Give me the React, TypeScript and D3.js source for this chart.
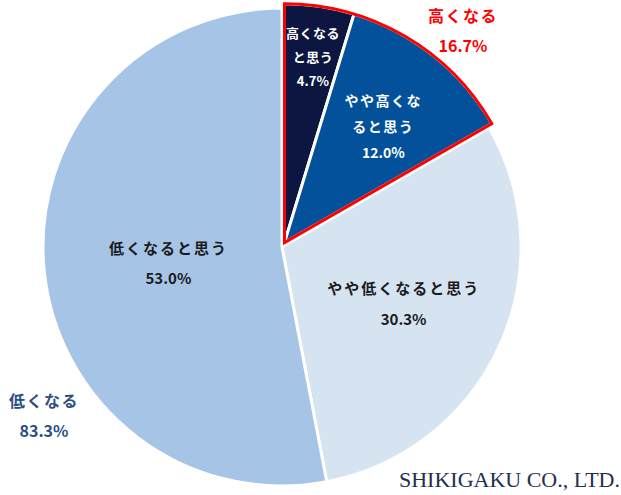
import React, { useEffect, useRef } from 'react';
import * as d3 from 'd3';

// slices, clockwise from 12 o'clock
const sliceNames = ['高くなると思う', 'やや高くなると思う', 'やや低くなると思う', '低くなると思う'];
const sliceValues = [4.7, 12.0, 30.3, 53.0];
const sliceLines = [
  ['高くなる', 'と思う'],
  ['やや高くな', 'ると思う'],
  ['やや低くなると思う'],
  ['低くなると思う'],
];
const sliceColors = ['#0c1640', '#02519a', '#d6e3f1', '#a6c5e6'];
const sliceTextColors = ['#ffffff', '#ffffff', '#1a1a1a', '#1a1a1a'];

const groupNames = ['高くなる', '低くなる'];
const groupValues = [16.7, 83.3];

const App = () => {
  const svgRef = useRef<SVGSVGElement>(null);

  useEffect(() => {
    const svg = d3.select(svgRef.current);
    svg.selectAll('*').remove();

    const width = 621;
    const height = 495;
    const cx = 282;
    const cy = 247;
    const radius = 239;
    const explode = 5;
    const font = "'Noto Sans CJK JP', 'Noto Sans', sans-serif";

    const data = sliceNames.map((name, i) => ({ name, value: sliceValues[i], i }));
    const pie = d3.pie<any>().sort(null).value(d => d.value);
    const arcs = pie(data);
    const arc = d3.arc<any>().innerRadius(0).outerRadius(radius);

    // high group = first two slices, pulled out a bit
    const highEnd = arcs[1].endAngle;
    const mid = highEnd / 2;
    const ox = Math.sin(mid) * explode;
    const oy = -Math.cos(mid) * explode;

    const g = svg.append('g').attr('transform', `translate(${cx},${cy})`);

    const lowG = g.append('g');
    const highG = g.append('g').attr('transform', `translate(${ox},${oy})`);

    arcs.forEach((a, i) => {
      const target = i < 2 ? highG : lowG;
      target.append('path')
        .attr('d', arc(a))
        .attr('fill', sliceColors[i])
        .attr('stroke', '#fff')
        .attr('stroke-width', 3)
        .attr('stroke-linejoin', 'round');
    });

    // red outline around the high group
    highG.append('path')
      .attr('d', arc({ startAngle: 0, endAngle: highEnd }))
      .attr('fill', 'none')
      .attr('stroke', '#ff0000')
      .attr('stroke-width', 3)
      .attr('stroke-linejoin', 'miter');

    // slice labels (position along the slice bisector, with small nudges)
    const labelR = [0.787, 0.64, 0.56, 0.48];
    const angleNudge = [0.004, 0.03, 0, -0.045];
    const fontSizes = [13, 14, 15, 15];
    const spacing = [0.5, 1.5, 2, 2];
    const lineH = [24, 26, 31, 30];
    arcs.forEach((a, i) => {
      const ang = (a.startAngle + a.endAngle) / 2 + angleNudge[i];
      const r = radius * labelR[i];
      let x = Math.sin(ang) * r;
      let y = -Math.cos(ang) * r;
      if (i < 2) { x += ox; y += oy; }
      const lines = [...sliceLines[i], `${sliceValues[i].toFixed(1)}%`];
      const top = y - ((lines.length - 1) * lineH[i]) / 2;
      lines.forEach((t, k) => {
        const isNum = k === lines.length - 1;
        g.append('text')
          .attr('x', x)
          .attr('y', top + k * lineH[i])
          .attr('text-anchor', 'middle')
          .attr('dominant-baseline', 'central')
          .attr('font-family', font)
          .attr('font-weight', 700)
          .attr('font-size', fontSizes[i])
          .attr('letter-spacing', isNum ? 0 : spacing[i])
          .attr('fill', sliceTextColors[i])
          .text(t);
      });
    });

    // group labels outside the pie
    const groupPos = [[463, 15], [44, 400]];
    const groupColors = ['#ff0000', '#2b4f80'];
    groupNames.forEach((name, i) => {
      [name, `${groupValues[i].toFixed(1)}%`].forEach((t, k) => {
        svg.append('text')
          .attr('x', groupPos[i][0])
          .attr('y', groupPos[i][1] + k * 30)
          .attr('text-anchor', 'middle')
          .attr('dominant-baseline', 'central')
          .attr('font-family', font)
          .attr('font-weight', 700)
          .attr('font-size', 16)
          .attr('letter-spacing', k === 0 ? 1.5 : 0)
          .attr('fill', groupColors[i])
          .text(t);
      });
    });

    svg.append('text')
      .attr('x', 620)
      .attr('y', 487)
      .attr('text-anchor', 'end')
      .attr('font-family', "'Liberation Serif', 'DejaVu Serif', serif")
      .attr('font-size', 22)
      .attr('fill', '#22304f')
      .text('SHIKIGAKU CO., LTD.');

    svg.attr('width', width).attr('height', height);
  }, []);

  return (
    <svg
      ref={svgRef}
      style={{ position: 'absolute', left: 0, top: 0, background: '#fff' }}
    />
  );
};

export default App;
